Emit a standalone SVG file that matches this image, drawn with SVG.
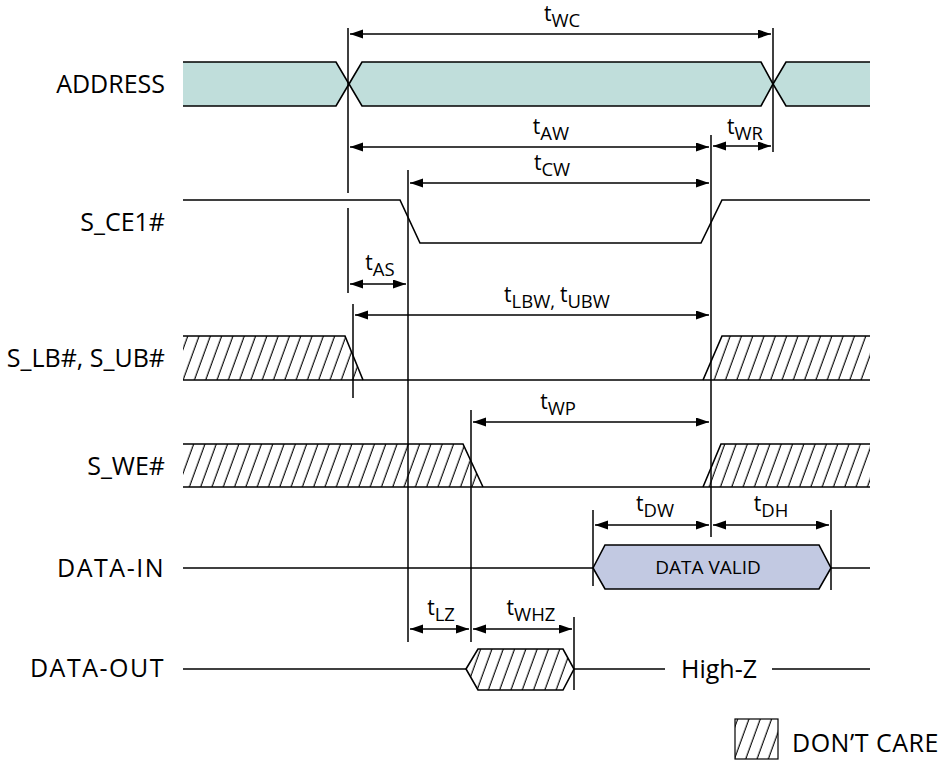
<svg xmlns="http://www.w3.org/2000/svg" width="938" height="761" viewBox="0 0 938 761">
<style>
.ln{stroke:#000;stroke-width:1.5;fill:none}
.ol{stroke:#000;stroke-width:1.6;stroke-linejoin:miter}
.dim{stroke:#000;stroke-width:1.4;fill:none;marker-start:url(#ah);marker-end:url(#ah)}
.lbl{font-family:"Open Sans","Noto Sans",sans-serif;font-size:25px;fill:#000}
.wide{letter-spacing:1.5px}
.tl{font-family:"Open Sans","Noto Sans",sans-serif;font-size:21px;fill:#000;text-anchor:middle}
.sub{font-size:18.5px}
.hat{fill:url(#hatch);stroke:none}
</style>
<defs>
<pattern id="hatch" patternUnits="userSpaceOnUse" width="11.3" height="20" patternTransform="skewX(-20)">
<line x1="5" y1="-2" x2="5" y2="22" stroke="#000" stroke-width="1.2"/>
</pattern>
<marker id="ah" markerUnits="userSpaceOnUse" markerWidth="14" markerHeight="10" refX="13" refY="4.5" orient="auto-start-reverse">
<path d="M0,0 L13,4.5 L0,9 z" fill="#000"/>
</marker>
</defs>
<rect width="938" height="761" fill="#fff"/>

<g id="labels">
<text class="lbl" x="165" y="93" text-anchor="end">ADDRESS</text>
<text class="lbl" x="165" y="231" text-anchor="end">S_CE1#</text>
<text class="lbl" x="165" y="367" text-anchor="end">S_LB#, S_UB#</text>
<text class="lbl" x="165" y="475" text-anchor="end">S_WE#</text>
<text class="lbl wide" x="165" y="577" text-anchor="end">DATA-IN</text>
<text class="lbl wide" x="165" y="677" text-anchor="end">DATA-OUT</text>
</g>

<g id="address">
<path d="M183,62 L336,62 L349,84 L336,106 L183,106 Z" fill="#c0dedb" stroke="none"/>
<path d="M183,62 L336,62 L349,84 L336,106 L183,106" class="ol" fill="none"/>
<path d="M349,84 L362,62 L761,62 L773,84 L761,106 L362,106 Z" fill="#c0dedb" class="ol"/>
<path d="M870,62 L786,62 L773,84 L786,106 L870,106 Z" fill="#c0dedb" stroke="none"/>
<path d="M870,62 L786,62 L773,84 L786,106 L870,106" class="ol" fill="none"/>
</g>

<g id="sce1">
<path d="M183,200 L400,200 L420,243 L701,243 L722,200 L870,200" class="ol" fill="none"/>
</g>

<g id="slb">
<polygon class="hat" points="183,336 345,336 363,380 183,380"/>
<polygon class="hat" points="703,380 722,336 870,336 870,380"/>
<path d="M183,336 L345,336 L363,380" class="ol" fill="none"/>
<path d="M703,380 L722,336 L870,336" class="ol" fill="none"/>
<path d="M183,380 L870,380" class="ol" fill="none"/>
</g>

<g id="swe">
<polygon class="hat" points="183,444 463,444 483,487 183,487"/>
<polygon class="hat" points="703,487 721,444 870,444 870,487"/>
<path d="M183,444 L463,444 L483,487" class="ol" fill="none"/>
<path d="M703,487 L721,444 L870,444" class="ol" fill="none"/>
<path d="M183,487 L870,487" class="ol" fill="none"/>
</g>

<g id="datain">
<path d="M183,568 L593,568" class="ol" fill="none"/>
<path d="M593,568 L605,545 L819,545 L831,568 L819,589 L605,589 Z" fill="#c2c9e2" class="ol"/>
<path d="M831,568 L870,568" class="ol" fill="none"/>
<text x="708" y="574" text-anchor="middle" font-family="'Open Sans','Noto Sans',sans-serif" font-size="19">DATA VALID</text>
</g>

<g id="dataout">
<path d="M183,669 L466,669" class="ol" fill="none"/>
<polygon class="hat" points="466,669 478,649 563,649 574,669 563,690 478,690"/>
<polygon points="466,669 478,649 563,649 574,669 563,690 478,690" class="ol" fill="none"/>
<path d="M574,669 L665,669" class="ol" fill="none"/>
<text class="lbl" x="719" y="678" text-anchor="middle">High-Z</text>
<path d="M772,669 L870,669" class="ol" fill="none"/>
</g>

<g id="connectors">
<path class="ln" d="M348,28 L348,193 M348,208 L348,293"/>
<path class="ln" d="M773,28 L773,152"/>
<path class="ln" d="M711,135 L711,537"/>
<path class="ln" d="M408,170 L408,642"/>
<path class="ln" d="M353,304 L353,398"/>
<path class="ln" d="M471,410 L471,642"/>
<path class="ln" d="M593,510 L593,586"/>
<path class="ln" d="M831,510 L831,590"/>
<path class="ln" d="M574,617 L574,690"/>

<line class="dim" x1="350" y1="34" x2="771" y2="34"/>
<line class="dim" x1="350" y1="147" x2="709" y2="147"/>
<line class="dim" x1="713" y1="146" x2="771" y2="146"/>
<line class="dim" x1="410" y1="183" x2="709" y2="183"/>
<line class="dim" x1="350" y1="284" x2="406" y2="284"/>
<line class="dim" x1="355" y1="315" x2="709" y2="315"/>
<line class="dim" x1="473" y1="422" x2="709" y2="422"/>
<line class="dim" x1="595" y1="525" x2="709" y2="525"/>
<line class="dim" x1="713" y1="525" x2="829" y2="525"/>
<line class="dim" x1="410" y1="629" x2="469" y2="629"/>
<line class="dim" x1="473" y1="629" x2="572" y2="629"/>
</g>

<g id="timing-labels">
<text class="tl" x="562" y="21">t<tspan class="sub" dy="6">WC</tspan></text>
<text class="tl" x="551" y="134">t<tspan class="sub" dy="6">AW</tspan></text>
<text class="tl" x="745" y="134">t<tspan class="sub" dy="6">WR</tspan></text>
<text class="tl" x="552" y="170">t<tspan class="sub" dy="6">CW</tspan></text>
<text class="tl" x="380" y="270">t<tspan class="sub" dy="6">AS</tspan></text>
<text class="tl" x="557" y="302">t<tspan class="sub" dy="6">LBW, </tspan><tspan dy="-6">t</tspan><tspan class="sub" dy="6">UBW</tspan></text>
<text class="tl" x="558" y="409">t<tspan class="sub" dy="6">WP</tspan></text>
<text class="tl" x="655" y="511">t<tspan class="sub" dy="6">DW</tspan></text>
<text class="tl" x="771" y="511">t<tspan class="sub" dy="6">DH</tspan></text>
<text class="tl" x="441" y="615">t<tspan class="sub" dy="6">LZ</tspan></text>
<text class="tl" x="531" y="615">t<tspan class="sub" dy="6">WHZ</tspan></text>
</g>

<g id="legend">
<rect x="735" y="719" width="43" height="40" class="hat"/>
<rect x="735" y="719" width="43" height="40" fill="none" stroke="#000" stroke-width="1.2"/>
<text class="lbl" x="792" y="752" letter-spacing="0.5">DON’T CARE</text>
</g>
</svg>
